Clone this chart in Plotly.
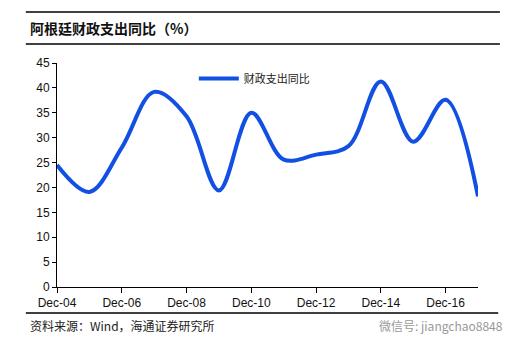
import plotly.graph_objects as go

categories = ["Dec-04", "Dec-05", "Dec-06", "Dec-07", "Dec-08", "Dec-09", "Dec-10",
              "Dec-11", "Dec-12", "Dec-13", "Dec-14", "Dec-15", "Dec-16", "Dec-17"]
values = [24.5, 19.1, 28.0, 39.2, 34.3, 19.4, 35.0, 25.6, 26.6, 28.3, 41.3, 29.2, 37.6, 18.2]
tick_labels = ["Dec-04", "Dec-06", "Dec-08", "Dec-10", "Dec-12", "Dec-14", "Dec-16"]
y_ticks = [0, 5, 10, 15, 20, 25, 30, 35, 40, 45]
series_name = "财政支出同比"
title_text = "阿根廷财政支出同比（%）"
source_text = "资料来源：Wind，海通证券研究所"
watermark_text = "微信号: jiangchao8848"

CJK = "Noto Sans CJK SC, sans-serif"
LAT = "Liberation Sans, Arial, sans-serif"
COLOR = "#1150E2"

fig = go.Figure()
fig.add_trace(go.Scatter(
    x=categories, y=values, mode="lines", name=series_name,
    line=dict(color=COLOR, width=4, shape="spline", smoothing=1.0),
))

fig.update_layout(
    width=531, height=354,
    margin=dict(l=57, r=53, t=63, b=67),
    paper_bgcolor="white", plot_bgcolor="white",
    showlegend=True,
    legend=dict(x=0.325, y=0.995, xanchor="left", yanchor="top",
                font=dict(family=CJK, size=11, color="#222"),
                bgcolor="rgba(0,0,0,0)", itemwidth=40, tracegroupgap=0),
    xaxis=dict(type="category", range=[0, 13], tickmode="array",
               tickvals=tick_labels, ticktext=tick_labels,
               showline=True, linecolor="black", linewidth=1,
               ticks="outside", ticklen=5, tickcolor="black",
               showgrid=False, zeroline=False,
               tickfont=dict(family=LAT, size=12, color="#111")),
    yaxis=dict(range=[0, 45], tickmode="array", tickvals=y_ticks,
               showline=True, linecolor="black", linewidth=1,
               ticks="outside", ticklen=4, tickcolor="black",
               showgrid=False, zeroline=False,
               tickfont=dict(family=LAT, size=12, color="#111")),
)

# header / footer decorations
fig.add_shape(type="line", xref="paper", yref="paper", x0=-0.074, x1=1.052,
              y0=1 + (63 - 12) / 224, y1=1 + (63 - 12) / 224,
              line=dict(color="black", width=1.5))
fig.add_shape(type="line", xref="paper", yref="paper", x0=-0.074, x1=1.052,
              y0=1 + (63 - 44) / 224, y1=1 + (63 - 44) / 224,
              line=dict(color="black", width=1.5))
fig.add_shape(type="line", xref="paper", yref="paper", x0=-0.074, x1=1.048,
              y0=-(313 - 287) / 224, y1=-(313 - 287) / 224,
              line=dict(color="black", width=1.5))

fig.add_annotation(text="<b>" + title_text + "</b>", xref="paper", yref="paper",
                   x=-(57 - 28) / 421, y=1 + (63 - 28) / 224, xanchor="left", yanchor="middle",
                   showarrow=False, font=dict(family=CJK, size=14, color="#111"))
fig.add_annotation(text=source_text, xref="paper", yref="paper",
                   x=-(57 - 28) / 421, y=-(325 - 287) / 224, xanchor="left", yanchor="middle",
                   showarrow=False, font=dict(family=CJK, size=12, color="#222"))
fig.add_annotation(text=watermark_text, xref="paper", yref="paper",
                   x=(505 - 57) / 421, y=-(325 - 287) / 224, xanchor="right", yanchor="middle",
                   showarrow=False, font=dict(family=CJK, size=12, color="#999"))

fig.write_html("out.html")
